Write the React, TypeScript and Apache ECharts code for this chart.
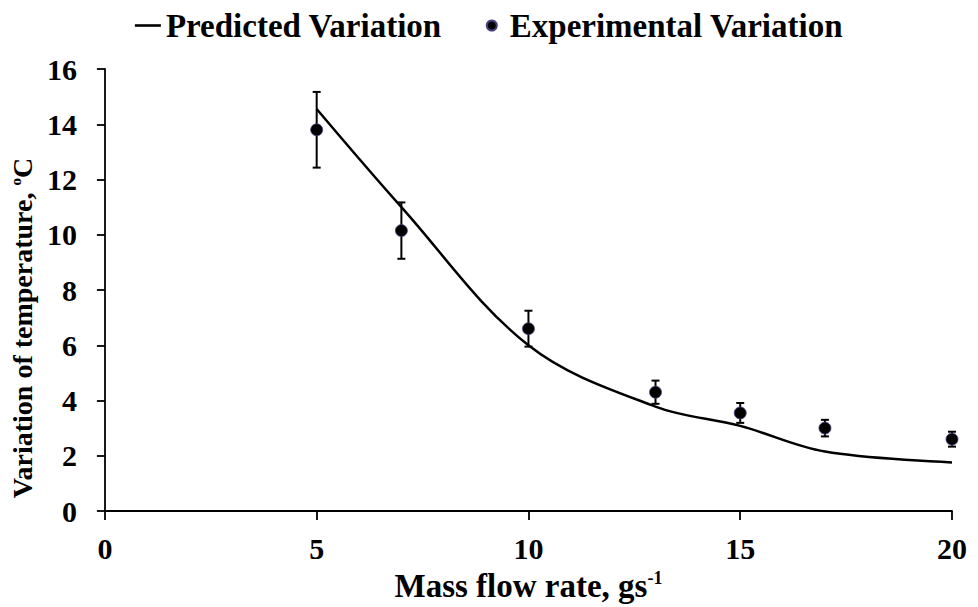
import React, { useEffect, useRef } from "react";
import * as echarts from "echarts";

// Mass flow rate (g/s) at which measurements were taken
const flowRates = [5, 7, 10, 13, 15, 17, 20];
// Measured temperature variation (°C) and its error half-width
const experimental = [13.8, 10.15, 6.6, 4.3, 3.55, 3.0, 2.6];
const experimentalError = [1.37, 1.02, 0.65, 0.42, 0.36, 0.3, 0.27];
// Model prediction (°C)
const predicted = [14.55, 11.0, 6.0, 3.78, 3.08, 2.15, 1.76];

const xTicks = { min: 0, max: 20, interval: 5 };
const yTicks = { min: 0, max: 16, interval: 2 };

const FONT = "'Liberation Serif', 'Times New Roman', serif";

export default function App() {
  const ref = useRef<HTMLDivElement>(null);

  useEffect(() => {
    document.body.style.margin = "0";
    if (!ref.current) return;
    const chart = echarts.init(ref.current, undefined, { renderer: "svg" });

    const supStyle = {
      fontFamily: FONT,
      fontWeight: "bold" as const,
      fontSize: 18,
      color: "#000",
      verticalAlign: "top" as const,
      lineHeight: 33,
      padding: [0, 0, 13, 0],
    };

    chart.setOption({
      animation: false,
      backgroundColor: "#fff",
      legend: {
        top: 4,
        left: "center",
        itemWidth: 26,
        itemHeight: 10,
        itemGap: 44,
        textStyle: { fontFamily: FONT, fontWeight: "bold", fontSize: 33, color: "#000" },
        data: [
          { name: "Predicted Variation", icon: "path://M0,0L26,0L26,2.6L0,2.6Z" },
          { name: "Experimental Variation", icon: "circle" },
        ],
      },
      grid: { left: 103, right: 26, top: 69, bottom: 96, containLabel: false },
      xAxis: {
        type: "value",
        ...xTicks,
        axisLine: { show: true, lineStyle: { color: "#000", width: 1.8 } },
        axisTick: { show: true, length: 9, lineStyle: { color: "#000", width: 1.8 } },
        splitLine: { show: false },
        axisLabel: {
          fontFamily: FONT,
          fontWeight: "bold",
          fontSize: 30,
          color: "#000",
          margin: 22,
        },
        name: "Mass flow rate, gs{sup|-1}",
        nameLocation: "middle",
        nameGap: 58,
        nameTextStyle: {
          fontFamily: FONT,
          fontWeight: "bold",
          fontSize: 33,
          color: "#000",
          rich: { sup: supStyle },
        },
      },
      yAxis: {
        type: "value",
        ...yTicks,
        axisLine: { show: true, lineStyle: { color: "#000", width: 1.8 } },
        axisTick: { show: true, length: 8, lineStyle: { color: "#000", width: 1.8 } },
        splitLine: { show: false },
        axisLabel: {
          fontFamily: FONT,
          fontWeight: "bold",
          fontSize: 30,
          color: "#000",
          margin: 28,
        },
        name: "Variation of temperature, {sup|o}C",
        nameLocation: "middle",
        nameGap: 61,
        nameTextStyle: {
          fontFamily: FONT,
          fontWeight: "bold",
          fontSize: 28,
          color: "#000",
          padding: [0, 76, 0, 0],
          rich: { sup: { ...supStyle, fontSize: 15, lineHeight: 28, padding: [0, 0, 11, 0] } },
        },
      },
      series: [
        {
          name: "Predicted Variation",
          type: "line",
          smooth: 0.35,
          showSymbol: false,
          symbol: "none",
          color: "#000",
          lineStyle: { color: "#000", width: 2.5 },
          data: flowRates.map((x, i) => [x, predicted[i]]),
          z: 2,
        },
        {
          name: "Error",
          type: "custom",
          z: 3,
          data: flowRates.map((x, i) => [
            x,
            experimental[i] - experimentalError[i],
            experimental[i] + experimentalError[i],
          ]),
          encode: { x: 0, y: [1, 2] },
          renderItem: (_params: any, api: any) => {
            const x = api.value(0);
            const top = api.coord([x, api.value(2)]);
            const bot = api.coord([x, api.value(1)]);
            const w = 4;
            const style = { stroke: "#000", lineWidth: 2 };
            return {
              type: "group",
              children: [
                { type: "line", shape: { x1: top[0], y1: top[1], x2: bot[0], y2: bot[1] }, style },
                { type: "line", shape: { x1: top[0] - w, y1: top[1], x2: top[0] + w, y2: top[1] }, style },
                { type: "line", shape: { x1: bot[0] - w, y1: bot[1], x2: bot[0] + w, y2: bot[1] }, style },
              ],
            };
          },
        },
        {
          name: "Experimental Variation",
          type: "scatter",
          symbol: "circle",
          symbolSize: 12,
          z: 4,
          color: "#000",
          itemStyle: { color: "#000", opacity: 1, borderColor: "#4a3d80", borderWidth: 0.8 },
          data: flowRates.map((x, i) => [x, experimental[i]]),
        },
      ],
    });

    return () => chart.dispose();
  }, []);

  return <div ref={ref} style={{ width: 978, height: 607 }} />;
}
